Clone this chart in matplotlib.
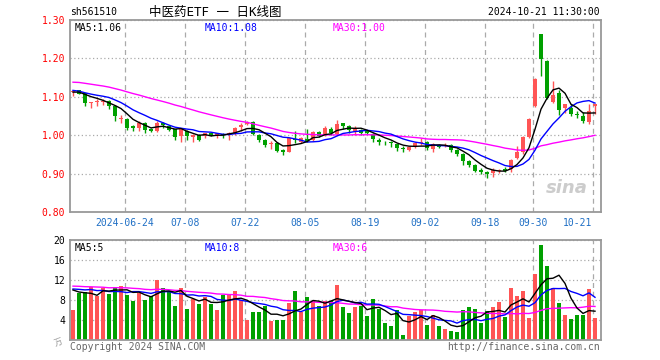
import numpy as np
import pandas as pd
import matplotlib
matplotlib.use('Agg')
import matplotlib.pyplot as plt

plt.rcParams['font.family'] = ['DejaVu Sans Mono', 'Noto Sans CJK SC']

# daily K line of sh561510, 2024-06-11 .. 2024-10-21 (88 trading days)
opens = [1.113, 1.118, 1.110, 1.084, 1.086, 1.086, 1.090, 1.075, 1.042, 1.042,
         1.024, 1.018, 1.033, 1.016, 1.010, 1.033, 1.024, 1.016, 0.997, 1.012,
         0.996, 1.000, 0.999, 1.005, 1.001, 1.003, 1.003, 1.005, 1.021, 1.029,
         1.034, 1.001, 0.988, 0.977, 0.979, 0.962, 0.957, 0.990, 0.981, 0.990,
         0.988, 1.008, 1.001, 1.016, 1.003, 1.031, 1.024, 1.010, 1.014, 1.010,
         1.003, 0.988, 0.983, 0.981, 0.977, 0.967, 0.962, 0.969, 0.979, 0.982,
         0.963, 0.974, 0.971, 0.975, 0.962, 0.951, 0.934, 0.923, 0.909, 0.904,
         0.901, 0.907, 0.912, 0.912, 0.940, 0.955, 0.996, 1.075, 1.264, 1.194,
         1.086, 1.110, 1.070, 1.071, 1.056, 1.051, 1.034, 1.077]
highs = [1.117, 1.119, 1.111, 1.086, 1.094, 1.094, 1.092, 1.079, 1.053, 1.044,
         1.027, 1.036, 1.035, 1.018, 1.036, 1.035, 1.026, 1.017, 1.020, 1.014,
         1.002, 1.003, 1.007, 1.008, 1.006, 1.005, 1.008, 1.022, 1.031, 1.036,
         1.036, 1.003, 0.990, 0.986, 0.981, 0.964, 0.994, 1.010, 0.996, 1.016,
         1.010, 1.010, 1.024, 1.021, 1.040, 1.032, 1.026, 1.023, 1.017, 1.012,
         1.005, 0.994, 0.986, 0.984, 0.978, 0.972, 0.970, 0.982, 0.992, 0.984,
         0.979, 0.977, 0.980, 0.977, 0.964, 0.953, 0.936, 0.925, 0.914, 0.906,
         0.914, 0.913, 0.916, 0.938, 0.972, 0.998, 1.045, 1.149, 1.264, 1.196,
         1.142, 1.118, 1.082, 1.081, 1.064, 1.060, 1.082, 1.082]
lows = [1.101, 1.106, 1.075, 1.072, 1.076, 1.078, 1.069, 1.036, 1.033, 1.014,
        1.010, 1.010, 1.007, 1.008, 1.008, 1.018, 1.010, 0.988, 0.983, 0.988,
        0.981, 0.985, 0.992, 0.997, 0.992, 0.994, 0.988, 1.001, 1.012, 1.027,
        1.000, 0.983, 0.969, 0.964, 0.955, 0.949, 0.955, 0.980, 0.979, 0.981,
        0.985, 0.995, 0.999, 1.001, 1.001, 1.016, 1.005, 1.001, 1.001, 1.003,
        0.983, 0.975, 0.975, 0.970, 0.959, 0.955, 0.958, 0.966, 0.975, 0.962,
        0.957, 0.966, 0.968, 0.955, 0.946, 0.923, 0.916, 0.903, 0.899, 0.888,
        0.890, 0.902, 0.903, 0.905, 0.938, 0.952, 0.994, 1.073, 1.153, 1.094,
        1.083, 1.053, 1.058, 1.051, 1.044, 1.031, 1.030, 1.055]
closes = [1.116, 1.108, 1.083, 1.085, 1.088, 1.090, 1.075, 1.049, 1.045, 1.020,
          1.018, 1.033, 1.014, 1.010, 1.033, 1.027, 1.014, 0.995, 1.018, 0.997,
          1.000, 0.988, 1.005, 1.001, 1.005, 1.001, 1.005, 1.020, 1.026, 1.034,
          1.003, 0.988, 0.975, 0.980, 0.960, 0.957, 0.992, 0.988, 0.994, 0.986,
          1.008, 0.999, 1.020, 1.005, 1.030, 1.024, 1.014, 1.016, 1.007, 1.005,
          0.991, 0.982, 0.981, 0.979, 0.966, 0.963, 0.968, 0.979, 0.982, 0.966,
          0.977, 0.970, 0.975, 0.962, 0.951, 0.934, 0.923, 0.908, 0.905, 0.900,
          0.910, 0.910, 0.907, 0.936, 0.955, 0.996, 1.043, 1.147, 1.198, 1.097,
          1.105, 1.066, 1.080, 1.055, 1.053, 1.036, 1.064, 1.082]
# volume, 万手
volumes = [6.0, 9.5, 9.7, 10.7, 8.8, 10.5, 9.2, 10.7, 10.8, 9.0,
           7.9, 9.5, 8.0, 8.8, 12.0, 10.5, 9.7, 6.8, 10.5, 6.2,
           8.3, 7.2, 8.7, 7.3, 6.0, 9.0, 9.0, 9.8, 8.0, 4.0,
           5.6, 5.6, 6.8, 3.8, 4.0, 4.0, 7.5, 9.8, 5.7, 8.6,
           7.9, 6.8, 7.8, 7.9, 11.0, 6.6, 5.4, 6.6, 6.9, 4.8,
           8.2, 6.2, 3.4, 2.8, 6.0, 1.0, 4.8, 5.6, 6.0, 3.0,
           5.0, 2.8, 2.2, 1.8, 1.6, 6.0, 6.6, 6.2, 3.4, 5.8,
           6.6, 7.6, 4.6, 10.4, 8.8, 9.8, 4.4, 13.2, 19.0, 14.8,
           10.4, 7.4, 5.0, 4.2, 5.0, 5.0, 10.2, 4.4]

# days before the window: not drawn, only feed the moving averages
prior_closes = [1.128, 1.150, 1.155, 1.160, 1.158, 1.162, 1.165, 1.160, 1.158, 1.152,
                1.150, 1.148, 1.145, 1.150, 1.146, 1.142, 1.140, 1.135, 1.138, 1.132,
                1.128, 1.125, 1.120, 1.118, 1.115, 1.108, 1.112, 1.115, 1.110]
prior_volumes = [10.5, 12.0, 11.5, 10.0, 11.8, 12.5, 10.2, 11.0, 9.8, 10.6,
                 11.4, 12.2, 10.8, 9.5, 11.2, 12.0, 10.4, 11.6, 10.9, 11.3,
                 10.2, 10.8, 9.9, 11.0, 10.1, 11.5, 10.5, 11.2, 10.8]

date_idx = [9, 19, 29, 39, 49, 59, 69, 77, 87]
date_labels = ['2024-06-24', '07-08', '07-22', '08-05', '08-19',
               '09-02', '09-18', '09-30', '10-21']
price_ticks = [0.80, 0.90, 1.00, 1.10, 1.20, 1.30]
vol_ticks = [4, 8, 12, 16, 20]

RED = '#ff5555'
GREEN = '#00a000'
GRID = '#aaaaaa'


def moving_avg(values, prior, n):
    s = pd.Series(list(prior) + list(values)).rolling(n).mean()
    return s.values[len(prior):]


o = np.array(opens); h = np.array(highs); l = np.array(lows); c = np.array(closes)
v = np.array(volumes)
x = np.arange(len(c))
up = c >= o
cols = np.where(up, RED, GREEN)

fig = plt.figure(figsize=(6.6, 3.6), dpi=100)
ax = fig.add_axes([70/660, 148/360, 531/660, 192/360])
axv = fig.add_axes([70/660, 20/360, 531/660, 100/360])

for a in (ax, axv):
    for sp in a.spines.values():
        sp.set_color('#999999')
        sp.set_linewidth(1.3)
    a.set_xlim(-0.5, 88)
    a.tick_params(length=0, labelsize=7)
    a.yaxis.grid(True, ls=(0, (1, 2)), color=GRID, lw=0.9)
    for d in date_idx:
        a.axvline(d - 0.4, color=GRID, ls=(0, (4, 3)), lw=0.9, zorder=0)
    a.set_axisbelow(True)

# candles
body = np.maximum(np.abs(c - o), 0.0015)
ax.vlines(x, l, h, colors=cols, lw=1, zorder=2)
ax.bar(x, body, bottom=np.minimum(o, c), width=0.8, color=cols, zorder=3)

ma5 = moving_avg(c, prior_closes, 5)
ma10 = moving_avg(c, prior_closes, 10)
ma30 = moving_avg(c, prior_closes, 30)
ax.plot(x, ma30, color='#ff00ff', lw=1, zorder=4)
ax.plot(x, ma10, color='#0000ff', lw=1, zorder=4)
ax.plot(x, ma5, color='black', lw=1, zorder=4)

ax.set_ylim(0.80, 1.30)
ax.set_yticks(price_ticks)
ax.set_yticklabels(['%.2f' % t for t in price_ticks], color='red')
ax.set_xticks([d - 0.4 for d in date_idx])
ax.set_xticklabels(date_labels, color='#1f6fc5')
ax.tick_params(axis='x', pad=4)
ax.get_xticklabels()[-1].set_ha('right')

ax.text(0.008, 0.985, 'MA5:%.2f' % ma5[-1], transform=ax.transAxes,
        va='top', fontsize=7, color='black')
ax.text(0.254, 0.985, 'MA10:%.2f' % ma10[-1], transform=ax.transAxes,
        va='top', fontsize=7, color='#0000ff')
ax.text(0.495, 0.985, 'MA30:%.2f' % ma30[-1], transform=ax.transAxes,
        va='top', fontsize=7, color='#ff00ff')
ax.text(0.975, 0.10, 'sina', transform=ax.transAxes, ha='right',
        fontsize=13, style='italic', fontweight='bold', color='#cccccc',
        family='DejaVu Sans', zorder=1)

# volume
axv.bar(x, v, width=0.8, color=cols, zorder=2)
vma5 = moving_avg(v, prior_volumes, 5)
vma10 = moving_avg(v, prior_volumes, 10)
vma30 = moving_avg(v, prior_volumes, 30)
axv.plot(x, vma30, color='#ff00ff', lw=1, zorder=4)
axv.plot(x, vma10, color='#0000ff', lw=1, zorder=4)
axv.plot(x, vma5, color='black', lw=1, zorder=4)
axv.set_ylim(0, 20)
axv.set_yticks(vol_ticks)
axv.set_yticklabels([str(t) for t in vol_ticks])
axv.set_xticks([])

axv.text(0.008, 0.97, 'MA5:%d' % vma5[-1], transform=axv.transAxes,
         va='top', fontsize=7, color='black')
axv.text(0.254, 0.97, 'MA10:%d' % vma10[-1], transform=axv.transAxes,
         va='top', fontsize=7, color='#0000ff')
axv.text(0.495, 0.97, 'MA30:%d' % vma30[-1], transform=axv.transAxes,
         va='top', fontsize=7, color='#ff00ff')

# header / footer
fig.text(70/660, 1 - 12/360, 'sh561510', fontsize=7, va='center')
fig.text(215/660, 1 - 12/360, '中医药ETF 一 日K线图', fontsize=9, va='center',
         ha='center')
fig.text(600/660, 1 - 12/360, '2024-10-21 11:30:00', fontsize=7, va='center',
         ha='right')
fig.text(64/660, 1 - 342/360, '万', fontsize=6, va='center', ha='right',
         color='#999999', rotation=20)
fig.text(70/660, 1 - 347/360, 'Copyright 2024 SINA.COM', fontsize=7,
         va='center', color='#666666')
fig.text(600/660, 1 - 347/360, 'http://finance.sina.com.cn', fontsize=7,
         va='center', ha='right', color='#666666')

fig.savefig('out.png', dpi=100)
